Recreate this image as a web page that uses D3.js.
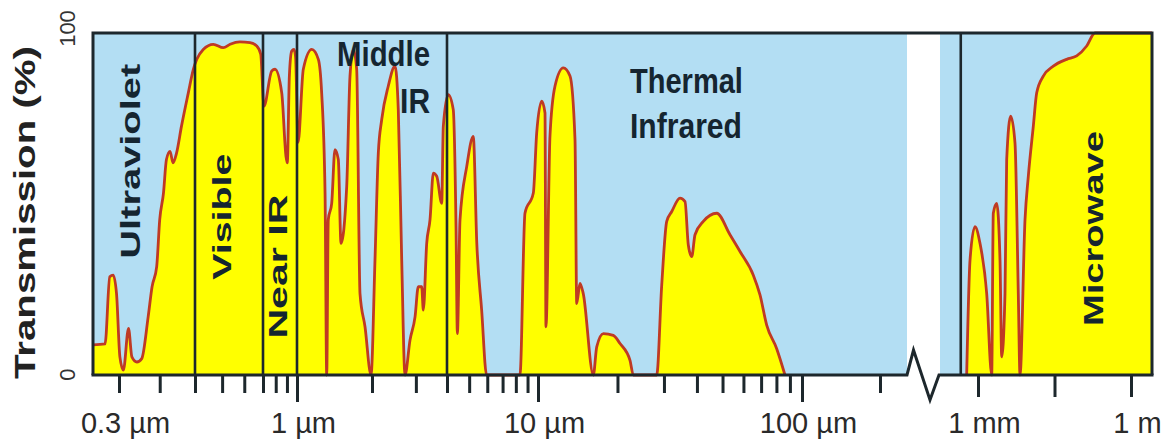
<!DOCTYPE html>
<html lang="en">
<head>
<meta charset="UTF-8">
<title>Atmospheric transmission</title>
<script src="https://cdn.jsdelivr.net/npm/d3@7"></script>
<style>
  html, body { margin: 0; padding: 0; background: #fff; }
  svg { display: block; font-family: "Liberation Sans", Arial, sans-serif; }
</style>
</head>
<body>
<svg id="chart" width="1176" height="446"></svg>
<script>
// transmission windows: [wavelength in µm, transmission in %]
var opticalWindows = [
  [0.27, 8.8], [0.2835, 9.1], [0.289, 28.7], [0.293, 29.2], [0.297, 23.8],
  [0.301, 5.3], [0.305, 1.4], [0.311, 13.6], [0.315, 5.3], [0.321, 3.8],
  [0.327, 4.8], [0.335, 17], [0.340, 25.8], [0.346, 31.7], [0.350, 45.4],
  [0.355, 53.2], [0.359, 63], [0.364, 65.4], [0.368, 62], [0.373, 64.9],
  [0.380, 72.7], [0.390, 82.5], [0.3975, 89.4], [0.406, 92.3], [0.428, 95.2],
  [0.465, 96.7], [0.505, 95.7], [0.534, 96.7], [0.579, 97.4], [0.629, 97.2],
  [0.665, 96.2], [0.687, 93.8], [0.707, 78.6], [0.767, 88.9], [0.794, 89.4],
  [0.852, 82.5], [0.891, 63.9], [0.903, 62], [0.923, 87.4], [0.946, 94.7],
  [0.969, 95.2], [0.985, 93], [1.01, 68], [1.06, 89.4], [1.146, 95.2],
  [1.218, 92.3], [1.256, 82.5], [1.296, 53.2], [1.316, 0], [1.335, 45.4],
  [1.378, 50.2], [1.42, 65.9], [1.465, 63], [1.502, 38.5], [1.583, 55.1],
  [1.632, 87.4], [1.683, 95.2], [1.736, 89.4], [1.79, 23.8], [1.875, 14.1],
  [1.982, 0], [2.056, 33.6], [2.12, 64.9], [2.188, 74.7], [2.325, 84.5],
  [2.474, 90.3], [2.55, 77.6], [2.632, 33.6], [2.714, 0], [2.842, 10.2],
  [2.977, 17], [3.068, 25.8], [3.166, 25.8], [3.214, 19], [3.316, 38.5],
  [3.419, 45.4], [3.525, 59], [3.638, 58.1], [3.809, 50.2], [3.866, 72.7],
  [4.05, 82], [4.26, 77.6], [4.38, 43.4], [4.44, 12.1], [4.56, 45.4],
  [4.88, 61], [5.21, 69.8], [5.40, 38.5], [5.67, 19], [5.96, 0],
  [8.34, 0], [8.77, 47.3], [9.54, 53.2], [9.87, 70.8], [10.33, 80.1],
  [10.63, 76.6], [10.72, 14.1], [11.10, 69.8], [11.60, 84.5], [12.47, 89.8],
  [13.22, 87.4], [13.81, 68.8], [14.02, 20.9], [14.42, 26.8], [14.84, 23.8],
  [16.2, 0], [16.69, 8.2], [17.68, 12.1], [19.28, 11.6], [20.45, 9.2],
  [22.31, 4.3], [22.96, 0], [28.16, 0], [29.42, 26.3], [30.73, 44.9],
  [32.11, 47.8], [34.51, 51.7], [36.05, 50.7], [37.10, 38], [38.22, 34.6],
  [39.33, 41], [42.29, 44.9], [47.53, 47.3], [53.37, 41], [58.24, 36.1],
  [65.41, 29.2], [69.33, 23.4], [73.5, 14.6], [80.2, 7.7], [86.2, 0]
];
var radioWindows = [
  [761, 0], [825, 33.6], [930, 43.4], [1094, 38.5], [1481, 23.8], [1856, 0],
  [1995, 47.3], [2326, 50.2], [2701, 33.6], [2915, 5.3], [3384, 23.8],
  [3653, 63], [4377, 75.7], [5315, 67.8], [6169, 23.8], [6662, 0],
  [8350, 45.4], [9690, 58.1], [12140, 72.7], [14160, 82.5], [19070, 87.4],
  [29960, 90.3], [54850, 92.3], [86150, 93.3], [135300, 96.2],
  [196900, 100], [2600000, 100]
];
var bandEdges = [0.4, 0.7, 1, 4, 660];
var minorTicks = [0.3, 0.35, 0.4, 0.5, 0.6, 0.7, 0.8, 0.9, 2, 3, 4, 5, 6, 7, 8, 9,
  20, 30, 40, 50, 60, 70, 80, 90, 200];
var majorTicks = [1, 10, 100];
var radioTicks = [1000, 31623, 1e6];
var labelTicks = [0.3, 1, 10, 100, 1000, 1e6];
var tickLabels = ["0.3 µm", "1 µm", "10 µm", "100 µm", "1 mm", "1 m"];
var axisBreak = [300, 400];

var svg = d3.select("#chart");

// schematic wavelength axis: log pieces of different stretch, with a break
var x = d3.scaleLog()
  .domain([0.27, 0.3, 0.4, 0.7, 1, 4, 10, 100, 200, 300, 400, 1000, 1e6, 2.6e6])
  .range([93, 119, 195, 263, 297, 447, 538, 802, 880, 907, 940, 978, 1131, 1152]);
var y = d3.scaleLinear().domain([0, 100]).range([375, 33]);

var x0 = x(0.27), x1 = x(2.6e6);
var ink = "#1d272c";

// sky background and the white gap of the axis break
svg.append("rect")
  .attr("x", x0).attr("y", y(100))
  .attr("width", x1 - x0).attr("height", y(0) - y(100))
  .attr("fill", "#b3def3");
svg.append("rect")
  .attr("x", x(axisBreak[0])).attr("y", y(100))
  .attr("width", x(axisBreak[1]) - x(axisBreak[0])).attr("height", y(0) - y(100))
  .attr("fill", "#fff");

var area = d3.area()
  .x(function(d) { return x(d[0]); })
  .y0(y(0))
  .y1(function(d) { return y(d[1]); })
  .curve(d3.curveMonotoneX);
var line = d3.line()
  .x(function(d) { return x(d[0]); })
  .y(function(d) { return y(d[1]); })
  .curve(d3.curveMonotoneX);

[opticalWindows, radioWindows].forEach(function(s) {
  svg.append("path").datum(s).attr("d", area).attr("fill", "#ffff00");
  svg.append("path").datum(s).attr("d", line)
    .attr("fill", "none").attr("stroke", "#bf3a24")
    .attr("stroke-width", 2.8).attr("stroke-linejoin", "round");
});

// region boundaries
svg.selectAll(".edge").data(bandEdges).enter().append("line")
  .attr("class", "edge")
  .attr("x1", function(d) { return x(d); }).attr("x2", function(d) { return x(d); })
  .attr("y1", y(0)).attr("y2", y(100))
  .attr("stroke", ink).attr("stroke-width", 2.6);

// frame
svg.append("path")
  .attr("d", "M" + x0 + "," + y(0) + "V" + y(100) + "H" + x1 + "V" + y(0))
  .attr("fill", "none").attr("stroke", ink).attr("stroke-width", 3);
var g0 = x(axisBreak[0]), g1 = x(axisBreak[1]), yb = y(0);
svg.append("path")
  .attr("d", "M" + (x0 - 1.5) + "," + yb + "H" + g0 +
    "L" + (g0 + 6.5) + "," + (yb - 25) +
    "L" + (g1 - 10) + "," + (yb + 25) +
    "L" + (g1 - 1) + "," + yb + "H" + (x1 + 1.5))
  .attr("fill", "none").attr("stroke", ink).attr("stroke-width", 3)
  .attr("stroke-linejoin", "miter");

// x ticks
function tickAxis(values, size) {
  var g = svg.append("g").attr("transform", "translate(0," + (yb + 1) + ")")
    .call(d3.axisBottom(x).tickValues(values).tickSize(size).tickFormat(""));
  g.select(".domain").remove();
  g.selectAll(".tick line").attr("stroke", ink).attr("stroke-width", 3);
}
tickAxis(minorTicks, 17);
tickAxis(majorTicks, 26);
tickAxis(radioTicks, 21);

var lab = svg.append("g").attr("transform", "translate(0," + yb + ")")
  .call(d3.axisBottom(x).tickValues(labelTicks).tickSize(0)
    .tickFormat(function(d, i) { return tickLabels[i]; }));
lab.select(".domain").remove();
lab.selectAll("text")
  .attr("y", 58).attr("dy", 0).attr("dx", 6)
  .attr("font-size", 29).attr("font-family", "Liberation Sans, Arial, sans-serif")
  .attr("fill", "#2a2a2a");

// y axis: only the two end values, turned on their side
var ya = svg.append("g").attr("transform", "translate(75,0)")
  .call(d3.axisLeft(y).tickValues([0, 100]).tickSize(0));
ya.select(".domain").remove();
ya.selectAll("text")
  .attr("transform", "rotate(-90)")
  .attr("x", function(d) { return d === 100 ? 5 : 1; }).attr("y", 0).attr("dy", 0)
  .attr("text-anchor", "middle")
  .attr("font-size", 22).attr("font-family", "Liberation Sans, Arial, sans-serif")
  .attr("fill", "#333");

svg.append("text")
  .attr("transform", "translate(35," + y(47.5) + ") rotate(-90)")
  .attr("text-anchor", "middle")
  .attr("font-size", 30).attr("font-weight", "bold").attr("fill", "#222")
  .attr("textLength", 333).attr("lengthAdjust", "spacingAndGlyphs")
  .text("Transmission (%)");

// region names
var vertNames = [
  { text: "Ultraviolet", at: 0.325, mid: 62.5, len: 195, size: 27 },
  { text: "Visible", at: 0.538, mid: 46.3, len: 126, size: 26 },
  { text: "Near IR", at: 0.9, mid: 31.7, len: 144, size: 26 },
  { text: "Microwave", at: 282500, mid: 42.8, len: 195, size: 27 }
];
vertNames.forEach(function(n) {
  svg.append("text")
    .attr("transform", "translate(" + x(n.at) + "," + y(n.mid) + ") rotate(-90)")
    .attr("text-anchor", "middle")
    .attr("font-size", n.size).attr("font-weight", "bold").attr("fill", "#152530")
    .attr("textLength", n.len).attr("lengthAdjust", "spacingAndGlyphs")
    .text(n.text);
});

var flatNames = [
  { text: "Middle", at: 3.42, base: 90.3, anchor: "end", len: 93 },
  { text: "IR", at: 3.42, base: 76.5, anchor: "end", len: 30 },
  { text: "Thermal", at: 22.3, base: 82.4, anchor: "start", len: 113 },
  { text: "Infrared", at: 22.3, base: 69.2, anchor: "start", len: 112 }
];
flatNames.forEach(function(n) {
  svg.append("text")
    .attr("x", x(n.at)).attr("y", y(n.base))
    .attr("text-anchor", n.anchor)
    .attr("font-size", 35).attr("font-weight", "bold").attr("fill", "#152530")
    .attr("textLength", n.len).attr("lengthAdjust", "spacingAndGlyphs")
    .text(n.text);
});
</script>
</body>
</html>
